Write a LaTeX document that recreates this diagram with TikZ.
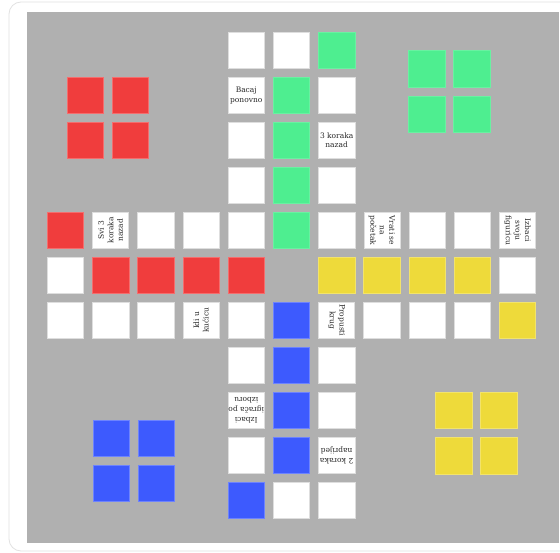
\documentclass[tikz,border=0pt]{standalone}
\usepackage{fontspec}
\setmainfont{DejaVu Serif}
\definecolor{boardgrey}{RGB}{176,176,176}
\definecolor{myred}{RGB}{240,61,61}
\definecolor{mygreen}{RGB}{78,238,144}
\definecolor{myyellow}{RGB}{238,218,58}
\definecolor{myblue}{RGB}{61,90,254}
\definecolor{framegrey}{RGB}{226,226,226}
\definecolor{textgrey}{RGB}{40,40,40}
\tikzset{
  cellbase/.style={rectangle, minimum width=36.5pt, minimum height=36pt, inner sep=0pt, outer sep=0pt, line width=0.6pt},
  cellw/.style={cellbase, fill=white, draw=black!13},
  cellr/.style={cellbase, fill=myred, draw=myred!75!white},
  cellg/.style={cellbase, fill=mygreen, draw=mygreen!85!white},
  celly/.style={cellbase, fill=myyellow, draw=myyellow!75!white},
  cellb/.style={cellbase, fill=myblue, draw=myblue!75!white},
  txt/.style={cellw, align=center, text=textgrey, font=\fontsize{7.5}{9.6}\selectfont},
  homer/.style={cellbase, minimum width=36.5pt, minimum height=36.5pt, fill=myred, draw=myred!75!white},
  homeg/.style={cellbase, minimum width=36.5pt, minimum height=36.5pt, fill=mygreen, draw=mygreen!85!white},
  homey/.style={cellbase, minimum width=36.5pt, minimum height=36.5pt, fill=myyellow, draw=myyellow!75!white},
  homeb/.style={cellbase, minimum width=36.5pt, minimum height=36.5pt, fill=myblue, draw=myblue!75!white},
}
\newcommand{\cx}[1]{65.45+45.2*#1}
\newcommand{\cy}[1]{50.3+45*#1}
\begin{document}
\begin{tikzpicture}[x=1pt,y=-1pt]
\useasboundingbox (0,0) rectangle (560,553);
\fill[white] (0,0) rectangle (560,553);
\draw[framegrey, line width=0.8pt, rounded corners=12pt] (9,2) rectangle (620,551);
\fill[boardgrey] (27,12.5) rectangle (558.5,543);
% column 4-6, rows 0-3
\node[cellw] (r0c4) at ({\cx{4}},{\cy{0}}) {};
\node[cellw] (r0c5) at ({\cx{5}},{\cy{0}}) {};
\node[cellg] (r0c6) at ({\cx{6}},{\cy{0}}) {};
\node[txt]   (r1c4) at ({\cx{4}},{\cy{1}}) {Bacaj\\ponovno};
\node[cellg] (r1c5) at ({\cx{5}},{\cy{1}}) {};
\node[cellw] (r1c6) at ({\cx{6}},{\cy{1}}) {};
\node[cellw] (r2c4) at ({\cx{4}},{\cy{2}}) {};
\node[cellg] (r2c5) at ({\cx{5}},{\cy{2}}) {};
\node[txt]   (r2c6) at ({\cx{6}},{\cy{2}}) {3 koraka\\nazad};
\node[cellw] (r3c4) at ({\cx{4}},{\cy{3}}) {};
\node[cellg] (r3c5) at ({\cx{5}},{\cy{3}}) {};
\node[cellw] (r3c6) at ({\cx{6}},{\cy{3}}) {};
% row 4
\node[cellr] (r4c0) at ({\cx{0}},{\cy{4}}) {};
\node[txt, rotate=90] (r4c1) at ({\cx{1}},{\cy{4}}) {Svi 3\\koraka\\nazad};
\node[cellw] (r4c2) at ({\cx{2}},{\cy{4}}) {};
\node[cellw] (r4c3) at ({\cx{3}},{\cy{4}}) {};
\node[cellw] (r4c4) at ({\cx{4}},{\cy{4}}) {};
\node[cellg] (r4c5) at ({\cx{5}},{\cy{4}}) {};
\node[cellw] (r4c6) at ({\cx{6}},{\cy{4}}) {};
\node[txt, rotate=-90] (r4c7) at ({\cx{7}},{\cy{4}}) {Vrati se\\na\\početak};
\node[cellw] (r4c8) at ({\cx{8}},{\cy{4}}) {};
\node[cellw] (r4c9) at ({\cx{9}},{\cy{4}}) {};
\node[txt, rotate=-90] (r4c10) at ({\cx{10}},{\cy{4}}) {Izbaci\\svoju\\figuricu};
% row 5
\node[cellw] (r5c0) at ({\cx{0}},{\cy{5}}) {};
\node[cellr] (r5c1) at ({\cx{1}},{\cy{5}}) {};
\node[cellr] (r5c2) at ({\cx{2}},{\cy{5}}) {};
\node[cellr] (r5c3) at ({\cx{3}},{\cy{5}}) {};
\node[cellr] (r5c4) at ({\cx{4}},{\cy{5}}) {};
\node[celly] (r5c6) at ({\cx{6}},{\cy{5}}) {};
\node[celly] (r5c7) at ({\cx{7}},{\cy{5}}) {};
\node[celly] (r5c8) at ({\cx{8}},{\cy{5}}) {};
\node[celly] (r5c9) at ({\cx{9}},{\cy{5}}) {};
\node[cellw] (r5c10) at ({\cx{10}},{\cy{5}}) {};
% row 6
\node[cellw] (r6c0) at ({\cx{0}},{\cy{6}}) {};
\node[cellw] (r6c1) at ({\cx{1}},{\cy{6}}) {};
\node[cellw] (r6c2) at ({\cx{2}},{\cy{6}}) {};
\node[txt, rotate=90] (r6c3) at ({\cx{3}},{\cy{6}}) {Idi u\\kućicu};
\node[cellw] (r6c4) at ({\cx{4}},{\cy{6}}) {};
\node[cellb] (r6c5) at ({\cx{5}},{\cy{6}}) {};
\node[txt, rotate=-90] (r6c6) at ({\cx{6}},{\cy{6}}) {Propusti\\krug};
\node[cellw] (r6c7) at ({\cx{7}},{\cy{6}}) {};
\node[cellw] (r6c8) at ({\cx{8}},{\cy{6}}) {};
\node[cellw] (r6c9) at ({\cx{9}},{\cy{6}}) {};
\node[celly] (r6c10) at ({\cx{10}},{\cy{6}}) {};
% rows 7-10
\node[cellw] (r7c4) at ({\cx{4}},{\cy{7}}) {};
\node[cellb] (r7c5) at ({\cx{5}},{\cy{7}}) {};
\node[cellw] (r7c6) at ({\cx{6}},{\cy{7}}) {};
\node[txt, rotate=180] (r8c4) at ({\cx{4}},{\cy{8}}) {Izbaci\\igrača po\\izboru};
\node[cellb] (r8c5) at ({\cx{5}},{\cy{8}}) {};
\node[cellw] (r8c6) at ({\cx{6}},{\cy{8}}) {};
\node[cellw] (r9c4) at ({\cx{4}},{\cy{9}}) {};
\node[cellb] (r9c5) at ({\cx{5}},{\cy{9}}) {};
\node[txt, rotate=180] (r9c6) at ({\cx{6}},{\cy{9}}) {2 koraka\\naprijed};
\node[cellb] (r10c4) at ({\cx{4}},{\cy{10}}) {};
\node[cellw] (r10c5) at ({\cx{5}},{\cy{10}}) {};
\node[cellw] (r10c6) at ({\cx{6}},{\cy{10}}) {};
% homes
\node[homer] (hr1) at (85.2,95.2) {};
\node[homer] (hr2) at (130.2,95.2) {};
\node[homer] (hr3) at (85.2,140.5) {};
\node[homer] (hr4) at (130.2,140.5) {};
\node[homeg] (hg1) at (426.7,69) {};
\node[homeg] (hg2) at (472,69) {};
\node[homeg] (hg3) at (426.7,114.2) {};
\node[homeg] (hg4) at (472,114.2) {};
\node[homey] (hy1) at (454,410.3) {};
\node[homey] (hy2) at (498.7,410.3) {};
\node[homey] (hy3) at (454,455.6) {};
\node[homey] (hy4) at (498.7,455.6) {};
\node[homeb] (hb1) at (111.5,438.5) {};
\node[homeb] (hb2) at (156.5,438.5) {};
\node[homeb] (hb3) at (111.5,483.5) {};
\node[homeb] (hb4) at (156.5,483.5) {};
\end{tikzpicture}
\end{document}
